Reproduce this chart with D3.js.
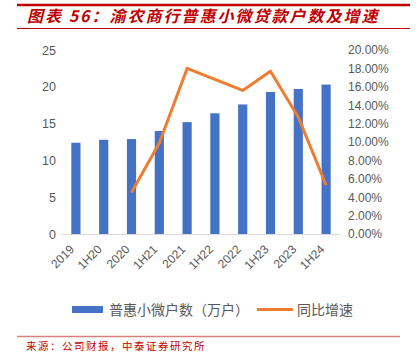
<!DOCTYPE html>
<html>
<head>
<meta charset="utf-8">
<script src="https://cdn.jsdelivr.net/npm/d3@7"></script>
<style>
  body { margin: 0; background: #fff; }
  svg { display: block; font-family: "Liberation Sans", "Noto Sans CJK SC", sans-serif; }
</style>
</head>
<body>
<svg id="chart" width="420" height="353"></svg>
<script>
// 渝农商行普惠小微贷款户数及增速
const periods = ["2019", "1H20", "2020", "1H21", "2021", "1H22", "2022", "1H23", "2023", "1H24"];
const households = [12.4, 12.8, 12.9, 14.0, 15.2, 16.4, 17.6, 19.3, 19.7, 20.3];
const growth = [null, null, 4.5, 9.9, 18.0, 16.8, 15.6, 17.7, 12.7, 5.3];
const leftTicks = [0, 5, 10, 15, 20, 25];
const rightTicks = [0, 2, 4, 6, 8, 10, 12, 14, 16, 18, 20];

const svg = d3.select("#chart");
const red = "#c00000";
const textGray = "#595959";

// header
svg.append("line").attr("x1", 17).attr("x2", 410).attr("y1", 5).attr("y2", 5)
  .attr("stroke", red).attr("stroke-width", 2.5);
svg.append("text")
  .attr("x", 27).attr("y", 22)
  .attr("font-family", "'Noto Sans CJK SC', sans-serif")
  .attr("font-size", 16).attr("font-weight", "bold").attr("font-style", "italic")
  .attr("letter-spacing", 2)
  .attr("fill", red)
  .text("图表 56：渝农商行普惠小微贷款户数及增速");
svg.append("line").attr("x1", 17).attr("x2", 410).attr("y1", 28.5).attr("y2", 28.5)
  .attr("stroke", red).attr("stroke-width", 1);

// plot area
const x = d3.scaleBand().domain(periods).range([62, 340]).paddingInner(0.67).paddingOuter(0.335);
const yL = d3.scaleLinear().domain([0, 25]).range([234, 50]);
const yR = d3.scaleLinear().domain([0, 20]).range([234, 50]);

svg.append("g").selectAll("rect")
  .data(periods)
  .join("rect")
  .attr("x", d => x(d))
  .attr("width", x.bandwidth())
  .attr("y", (d, i) => yL(households[i]))
  .attr("height", (d, i) => yL(0) - yL(households[i]))
  .attr("fill", "#4472c4");

// baseline
svg.append("line").attr("x1", 62).attr("x2", 340).attr("y1", 234.5).attr("y2", 234.5)
  .attr("stroke", "#d9d9d9").attr("stroke-width", 1);

// left axis
const axL = svg.append("g").attr("transform", "translate(56,0)")
  .call(d3.axisLeft(yL).tickValues(leftTicks).tickSize(0).tickPadding(0));
axL.select(".domain").remove();
axL.selectAll("text").attr("fill", textGray).attr("font-size", 12.5);

// right axis
const axR = svg.append("g").attr("transform", "translate(348,0)")
  .call(d3.axisRight(yR).tickValues(rightTicks).tickSize(0).tickPadding(0)
    .tickFormat(d => d.toFixed(2) + "%"));
axR.select(".domain").remove();
axR.selectAll("text").attr("fill", textGray).attr("font-size", 12);

// x axis labels
const axX = svg.append("g").attr("transform", "translate(0,234)")
  .call(d3.axisBottom(x).tickSize(0).tickPadding(0));
axX.select(".domain").remove();
axX.selectAll("text")
  .attr("fill", textGray).attr("font-size", 12)
  .attr("text-anchor", "end")
  .attr("dy", 0)
  .attr("transform", "translate(-1,16) rotate(-45)");

// growth line
const line = d3.line()
  .defined(d => d != null)
  .x((d, i) => x(periods[i]) + x.bandwidth() / 2)
  .y(d => yR(d));
svg.append("path")
  .datum(growth)
  .attr("d", line)
  .attr("fill", "none")
  .attr("stroke", "#ed7d31")
  .attr("stroke-width", 3)
  .attr("stroke-linejoin", "round");

// legend
const lg = svg.append("g").attr("font-family", "'Noto Sans CJK SC', sans-serif");
lg.append("rect").attr("x", 72).attr("y", 306).attr("width", 31).attr("height", 7).attr("fill", "#4472c4");
lg.append("text").attr("x", 109).attr("y", 315).attr("font-size", 14).attr("fill", textGray)
  .text("普惠小微户数（万户）");
lg.append("line").attr("x1", 257).attr("x2", 293).attr("y1", 309.5).attr("y2", 309.5)
  .attr("stroke", "#ed7d31").attr("stroke-width", 3);
lg.append("text").attr("x", 297).attr("y", 315).attr("font-size", 14).attr("fill", textGray)
  .text("同比增速");

// footer
svg.append("line").attr("x1", 17).attr("x2", 400).attr("y1", 336.5).attr("y2", 336.5)
  .attr("stroke", "#d88080").attr("stroke-width", 1.5);
svg.append("text")
  .attr("x", 26).attr("y", 349.5)
  .attr("font-family", "'Noto Sans CJK SC', sans-serif")
  .attr("font-size", 10.5).attr("letter-spacing", 1.5).attr("fill", red)
  .text("来源：公司财报，中泰证券研究所");
</script>
</body>
</html>
